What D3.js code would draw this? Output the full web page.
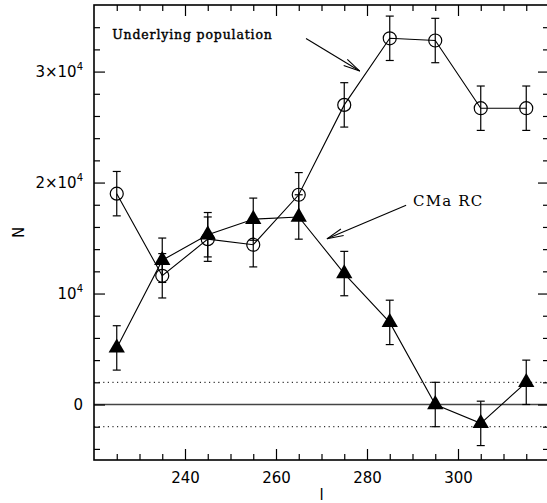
<!DOCTYPE html>
<html>
<head>
<meta charset="utf-8">
<script src="https://cdn.jsdelivr.net/npm/d3@7"></script>
<style>
  html, body { margin: 0; padding: 0; background: #fff; }
  svg { display: block; }
</style>
</head>
<body>
<svg id="chart" width="547" height="503"></svg>
<script>
// Galactic longitude bins (deg)
const longitudes = [225, 235, 245, 255, 265, 275, 285, 295, 305, 315];

// Underlying population counts and their errors
const underlying    = [19000, 11600, 14900, 14400, 18900, 27000, 33000, 32800, 26700, 26700];
const underlyingErr = [2000, 2000, 2000, 2000, 2000, 2000, 2000, 2000, 2000, 2000];

// CMa red clump counts and their errors
const cmaRC    = [5100, 13000, 15300, 16700, 16900, 11800, 7400, 0, -1700, 2000];
const cmaRCErr = [2000, 2000, 2000, 1900, 2000, 2000, 2000, 2000, 2000, 2000];

// Tick values and labels
const xMajorTicks = [240, 260, 280, 300];
const xMinorTicks = [225, 230, 235, 245, 250, 255, 265, 270, 275, 285, 290, 295, 305, 310, 315];
const yMajorTicks = [0, 10000, 20000, 30000];
const yTickLabels = ["0", "10^4", "2×10^4", "3×10^4"];
const yMinorTicks = [-4000, -2000, 2000, 4000, 6000, 8000, 12000, 14000, 16000, 18000,
                     22000, 24000, 26000, 28000, 32000, 34000];

// Reference levels
const zeroLevel = [0];
const dottedLevels = [2000, -2000];

// Annotations: text position, arrow start and arrow tip, in data units
const annotations = [
  { text: "Underlying population", tx: 224.0, ty: 32980, x0: 266.6, y0: 32980, x1: 278.4, y1: 30050, cls: "pop" },
  { text: "CMa RC",                tx: 290.1, ty: 17870, x0: 288.6, y0: 17960, x1: 271.2, y1: 14930, cls: "rc" }
];

const x = d3.scaleLinear().domain([220, 320]).range([94, 549]);
const y = d3.scaleLinear().domain([-5000, 36000]).range([460, 5]);

const svg = d3.select("#chart");
const sans = "'DejaVu Sans', Helvetica, Arial, sans-serif";
const serif = "'DejaVu Serif', 'Liberation Serif', serif";

function cleanAxis(g) {
  g.select(".domain").remove();
  g.selectAll(".tick line").attr("stroke", "#000").attr("stroke-width", 1.2);
  g.selectAll("text").attr("fill", "#000").attr("font-family", sans).attr("font-size", 15);
}

// Reference lines
svg.append("g").selectAll("line").data(zeroLevel).join("line")
  .attr("x1", x(220)).attr("x2", x(320))
  .attr("y1", d => y(d)).attr("y2", d => y(d))
  .attr("stroke", "#444").attr("stroke-width", 1.6);

svg.append("g").selectAll("line").data(dottedLevels).join("line")
  .attr("x1", x(220)).attr("x2", x(320))
  .attr("y1", d => y(d)).attr("y2", d => y(d))
  .attr("stroke", "#000").attr("stroke-width", 1)
  .attr("stroke-dasharray", "1.2,3.4");

// Bottom axis: major ticks with labels, minor ticks without
svg.append("g").attr("transform", `translate(0,${y(-5000)})`)
  .call(d3.axisBottom(x).tickValues(xMajorTicks).tickSizeInner(-11).tickSizeOuter(0).tickPadding(12))
  .call(cleanAxis);
svg.append("g").attr("transform", `translate(0,${y(-5000)})`)
  .call(d3.axisBottom(x).tickValues(xMinorTicks).tickSizeInner(-6).tickSizeOuter(0).tickFormat(""))
  .call(cleanAxis);

// Top axis
svg.append("g").attr("transform", `translate(0,${y(36000)})`)
  .call(d3.axisTop(x).tickValues(xMajorTicks).tickSizeInner(-11).tickSizeOuter(0).tickFormat(""))
  .call(cleanAxis);
svg.append("g").attr("transform", `translate(0,${y(36000)})`)
  .call(d3.axisTop(x).tickValues(xMinorTicks).tickSizeInner(-6).tickSizeOuter(0).tickFormat(""))
  .call(cleanAxis);

// Left axis with power-of-ten labels
const left = svg.append("g").attr("transform", `translate(${x(220)},0)`)
  .call(d3.axisLeft(y).tickValues(yMajorTicks).tickSizeInner(-11).tickSizeOuter(0).tickPadding(11).tickFormat(""))
  .call(cleanAxis);
left.selectAll(".tick text").each(function(d, i) {
  const t = d3.select(this).attr("dy", "0.36em");
  const parts = yTickLabels[i].split("^");
  t.append("tspan").text(parts[0]);
  if (parts[1]) {
    t.append("tspan").attr("font-size", 10).attr("dy", "-0.75em").text(parts[1]);
  }
});
svg.append("g").attr("transform", `translate(${x(220)},0)`)
  .call(d3.axisLeft(y).tickValues(yMinorTicks).tickSizeInner(-6).tickSizeOuter(0).tickFormat(""))
  .call(cleanAxis);

// Right axis
svg.append("g").attr("transform", `translate(${x(320)},0)`)
  .call(d3.axisRight(y).tickValues(yMajorTicks).tickSizeInner(-11).tickSizeOuter(0).tickFormat(""))
  .call(cleanAxis);
svg.append("g").attr("transform", `translate(${x(320)},0)`)
  .call(d3.axisRight(y).tickValues(yMinorTicks).tickSizeInner(-6).tickSizeOuter(0).tickFormat(""))
  .call(cleanAxis);

// Frame
svg.append("rect")
  .attr("x", x(220)).attr("y", y(36000))
  .attr("width", x(320) - x(220)).attr("height", y(-5000) - y(36000))
  .attr("fill", "none").attr("stroke", "#000").attr("stroke-width", 1.6);

// Axis titles
svg.append("text")
  .attr("x", (x(220) + x(320)) / 2).attr("y", 500)
  .attr("text-anchor", "middle").attr("font-family", sans).attr("font-size", 15)
  .text("l");
svg.append("text")
  .attr("transform", `translate(24,${(y(-5000) + y(36000)) / 2}) rotate(-90)`)
  .attr("text-anchor", "middle").attr("font-family", sans).attr("font-size", 15)
  .text("N");

// Series drawing helper
function drawSeries(values, errs, marker) {
  const pts = longitudes.map((l, i) => ({ l, v: values[i], e: errs[i] }));
  const g = svg.append("g");
  g.append("path").datum(pts)
    .attr("fill", "none").attr("stroke", "#000").attr("stroke-width", 1.1)
    .attr("d", d3.line().x(d => x(d.l)).y(d => y(d.v)));
  const eb = g.append("g").attr("stroke", "#000").attr("stroke-width", 1.2);
  eb.selectAll(".bar").data(pts).join("line").attr("class", "bar")
    .attr("x1", d => x(d.l)).attr("x2", d => x(d.l))
    .attr("y1", d => y(d.v - d.e)).attr("y2", d => y(d.v + d.e));
  eb.selectAll(".capTop").data(pts).join("line").attr("class", "capTop")
    .attr("x1", d => x(d.l) - 4).attr("x2", d => x(d.l) + 4)
    .attr("y1", d => y(d.v + d.e)).attr("y2", d => y(d.v + d.e));
  eb.selectAll(".capBot").data(pts).join("line").attr("class", "capBot")
    .attr("x1", d => x(d.l) - 4).attr("x2", d => x(d.l) + 4)
    .attr("y1", d => y(d.v - d.e)).attr("y2", d => y(d.v - d.e));
  if (marker === "circle") {
    g.selectAll("circle").data(pts).join("circle")
      .attr("cx", d => x(d.l)).attr("cy", d => y(d.v)).attr("r", 6.5)
      .attr("fill", "none").attr("stroke", "#000").attr("stroke-width", 1.2);
  } else {
    g.selectAll(".tri").data(pts).join("path").attr("class", "tri")
      .attr("transform", d => `translate(${x(d.l)},${y(d.v)})`)
      .attr("d", d3.symbol(d3.symbolTriangle, 115))
      .attr("fill", "#000");
  }
}

drawSeries(underlying, underlyingErr, "circle");
drawSeries(cmaRC, cmaRCErr, "triangle");

// Annotations with open arrowheads
const ann = svg.append("g");
annotations.forEach(a => {
  const t = ann.append("text")
    .attr("x", x(a.tx)).attr("y", y(a.ty))
    .attr("font-family", serif).attr("fill", "#000")
    .text(a.text);
  if (a.cls === "pop") {
    t.attr("font-size", 12.5).attr("letter-spacing", 0.85)
      .attr("stroke", "#000").attr("stroke-width", 0.4);
  } else {
    t.attr("font-size", 15).attr("letter-spacing", 1.2);
  }
  const sx = x(a.x0), sy = y(a.y0), ex = x(a.x1), ey = y(a.y1);
  ann.append("line").attr("x1", sx).attr("y1", sy).attr("x2", ex).attr("y2", ey)
    .attr("stroke", "#000").attr("stroke-width", 1.1);
  const ang = Math.atan2(sy - ey, sx - ex);
  const len = 17, spread = 12 * Math.PI / 180;
  [-spread, spread].forEach(s => {
    ann.append("line")
      .attr("x1", ex).attr("y1", ey)
      .attr("x2", ex + len * Math.cos(ang + s)).attr("y2", ey + len * Math.sin(ang + s))
      .attr("stroke", "#000").attr("stroke-width", 1.1);
  });
});
</script>
</body>
</html>
